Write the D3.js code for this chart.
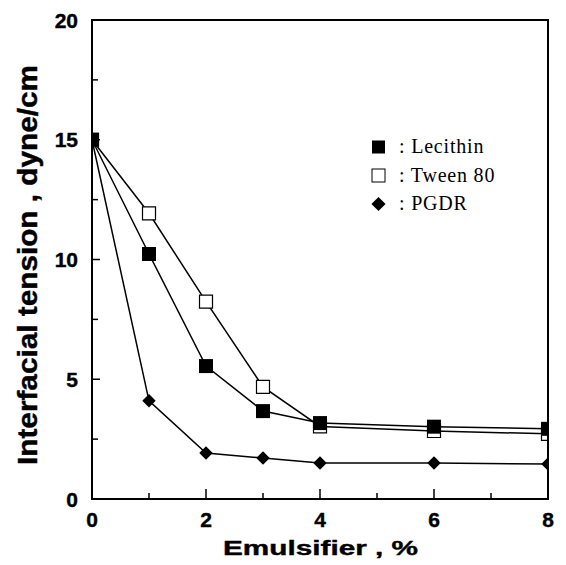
<!DOCTYPE html>
<html>
<head>
<meta charset="utf-8">
<script src="https://cdn.jsdelivr.net/npm/d3@7"></script>
<style>
  body { margin: 0; background: #fff; }
  svg { display: block; }
  .tick-label { font-family: "Liberation Sans", Arial, sans-serif; font-weight: bold; font-size: 21px; fill: #000; stroke: #000; stroke-width: 0.4px; }
  .legend text { font-family: "Liberation Serif", "Times New Roman", serif; font-size: 20px; letter-spacing: 0.8px; fill: #000; }
</style>
</head>
<body>
<svg class="chart"></svg>
<script>
// data
var emulsifier = [0, 1, 2, 3, 4, 6, 8];
var lecithin = [15, 10.23, 5.55, 3.67, 3.17, 3.02, 2.93];
var tween80 = [15, 11.93, 8.24, 4.68, 3.03, 2.84, 2.72];
var pgdr = [15, 4.1, 1.92, 1.71, 1.5, 1.5, 1.46];
var xTicks = [0, 2, 4, 6, 8];
var yTicks = [0, 5, 10, 15, 20];

var canvasWidth = 566;
var canvasHeight = 565;
var plotLeft = 92, plotRight = 548, plotTop = 20, plotBottom = 499;

var canvas = d3.select(".chart")
    .attr("width", canvasWidth)
    .attr("height", canvasHeight);

var x = d3.scaleLinear().domain([0, 8]).range([plotLeft, plotRight]);
var y = d3.scaleLinear().domain([0, 20]).range([plotBottom, plotTop]);

// clip for markers (points on the frame are cut off)
canvas.append("clipPath").attr("id", "plotClip")
    .append("rect")
    .attr("x", plotLeft).attr("y", plotTop)
    .attr("width", plotRight - plotLeft).attr("height", plotBottom - plotTop);

// series
var series = [
    { name: "Tween 80", values: tween80, type: "open" },
    { name: "PGDR", values: pgdr, type: "diamond" },
    { name: "Lecithin", values: lecithin, type: "filled" }
];

var line = d3.line()
    .x(function (d) { return x(d.x); })
    .y(function (d) { return y(d.y); });

series.forEach(function (s) {
    var pts = emulsifier.map(function (e, i) { return { x: e, y: s.values[i] }; });
    canvas.append("path")
        .datum(pts)
        .attr("fill", "none")
        .attr("stroke", "#000")
        .attr("stroke-width", 1.5)
        .attr("d", line);
});

var squareSym = d3.symbol().type(d3.symbolSquare).size(14 * 14);
var openSym = d3.symbol().type(d3.symbolSquare).size(13 * 13);
var diamondSym = d3.symbol().type(d3.symbolSquare).size(9.5 * 9.5);

function drawMarker(g, type, cx, cy) {
    if (type == "filled") {
        g.append("path").attr("d", squareSym())
            .attr("transform", "translate(" + cx + "," + cy + ")")
            .attr("fill", "#000");
    } else if (type == "open") {
        g.append("path").attr("d", openSym())
            .attr("transform", "translate(" + cx + "," + cy + ")")
            .attr("fill", "#fff").attr("stroke", "#000").attr("stroke-width", 1.2);
    } else {
        g.append("path").attr("d", diamondSym())
            .attr("transform", "translate(" + cx + "," + cy + ") rotate(45)")
            .attr("fill", "#000");
    }
}

var markers = canvas.append("g").attr("clip-path", "url(#plotClip)");
series.forEach(function (s) {
    emulsifier.forEach(function (e, i) {
        drawMarker(markers, s.type, x(e), y(s.values[i]));
    });
});

// frame
canvas.append("rect")
    .attr("x", plotLeft).attr("y", plotTop)
    .attr("width", plotRight - plotLeft).attr("height", plotBottom - plotTop)
    .attr("fill", "none")
    .attr("stroke", "#000")
    .attr("stroke-width", 2);

// ticks (inward)
var xMinor = d3.range(1, 8, 2);
var yMinor = d3.range(2.5, 20, 5);
var tickG = canvas.append("g").attr("stroke", "#000").attr("stroke-width", 1.5);
xTicks.forEach(function (t) {
    tickG.append("line").attr("x1", x(t)).attr("x2", x(t)).attr("y1", plotBottom).attr("y2", plotBottom - 10);
});
xMinor.forEach(function (t) {
    tickG.append("line").attr("x1", x(t)).attr("x2", x(t)).attr("y1", plotBottom).attr("y2", plotBottom - 6);
});
yTicks.forEach(function (t) {
    tickG.append("line").attr("x1", plotLeft).attr("x2", plotLeft + 8).attr("y1", y(t)).attr("y2", y(t));
});
yMinor.forEach(function (t) {
    tickG.append("line").attr("x1", plotLeft).attr("x2", plotLeft + 6).attr("y1", y(t)).attr("y2", y(t));
});

// tick labels
canvas.selectAll(".xlab").data(xTicks).enter().append("text")
    .attr("class", "tick-label")
    .attr("x", function (d) { return x(d); })
    .attr("y", 527)
    .style("text-anchor", "middle")
    .text(function (d) { return d; });

canvas.selectAll(".ylab").data(yTicks).enter().append("text")
    .attr("class", "tick-label")
    .attr("x", 78)
    .attr("y", function (d) { return y(d); })
    .attr("dy", "0.36em")
    .style("text-anchor", "end")
    .text(function (d) { return d; });

// axis titles
canvas.append("text")
    .attr("x", 320.5)
    .attr("y", 555)
    .attr("text-anchor", "middle")
    .attr("textLength", 195)
    .attr("lengthAdjust", "spacingAndGlyphs")
    .style("font-family", "'Liberation Sans', Arial, sans-serif")
    .style("font-weight", "bold")
    .style("font-size", "21px")
    .style("stroke", "#000")
    .style("stroke-width", "0.4px")
    .text("Emulsifier , %");

canvas.append("text")
    .attr("transform", "translate(36.5,265) rotate(-90)")
    .attr("text-anchor", "middle")
    .attr("textLength", 400)
    .attr("lengthAdjust", "spacingAndGlyphs")
    .style("font-family", "'Liberation Sans', Arial, sans-serif")
    .style("font-weight", "bold")
    .style("font-size", "27px")
    .style("stroke", "#000")
    .style("stroke-width", "0.4px")
    .text("Interfacial tension , dyne/cm");

// legend
var legendItems = [
    { name: "Lecithin", type: "filled" },
    { name: "Tween 80", type: "open" },
    { name: "PGDR", type: "diamond" }
];
var legend = canvas.append("g").attr("class", "legend");
legendItems.forEach(function (d, i) {
    var cy = 147 + i * 28.5;
    if (d.type == "filled") {
        legend.append("rect").attr("x", 372).attr("y", cy - 6.5).attr("width", 13).attr("height", 13).attr("fill", "#000");
    } else if (d.type == "open") {
        legend.append("rect").attr("x", 372).attr("y", cy - 6.5).attr("width", 13).attr("height", 13)
            .attr("fill", "#fff").attr("stroke", "#000").attr("stroke-width", 1);
    } else {
        legend.append("path").attr("d", d3.symbol().type(d3.symbolSquare).size(10 * 10)())
            .attr("transform", "translate(378.5," + cy + ") rotate(45)")
            .attr("fill", "#000");
    }
    legend.append("text")
        .attr("x", 399)
        .attr("y", cy + 6)
        .text(": " + d.name);
});
</script>
</body>
</html>
